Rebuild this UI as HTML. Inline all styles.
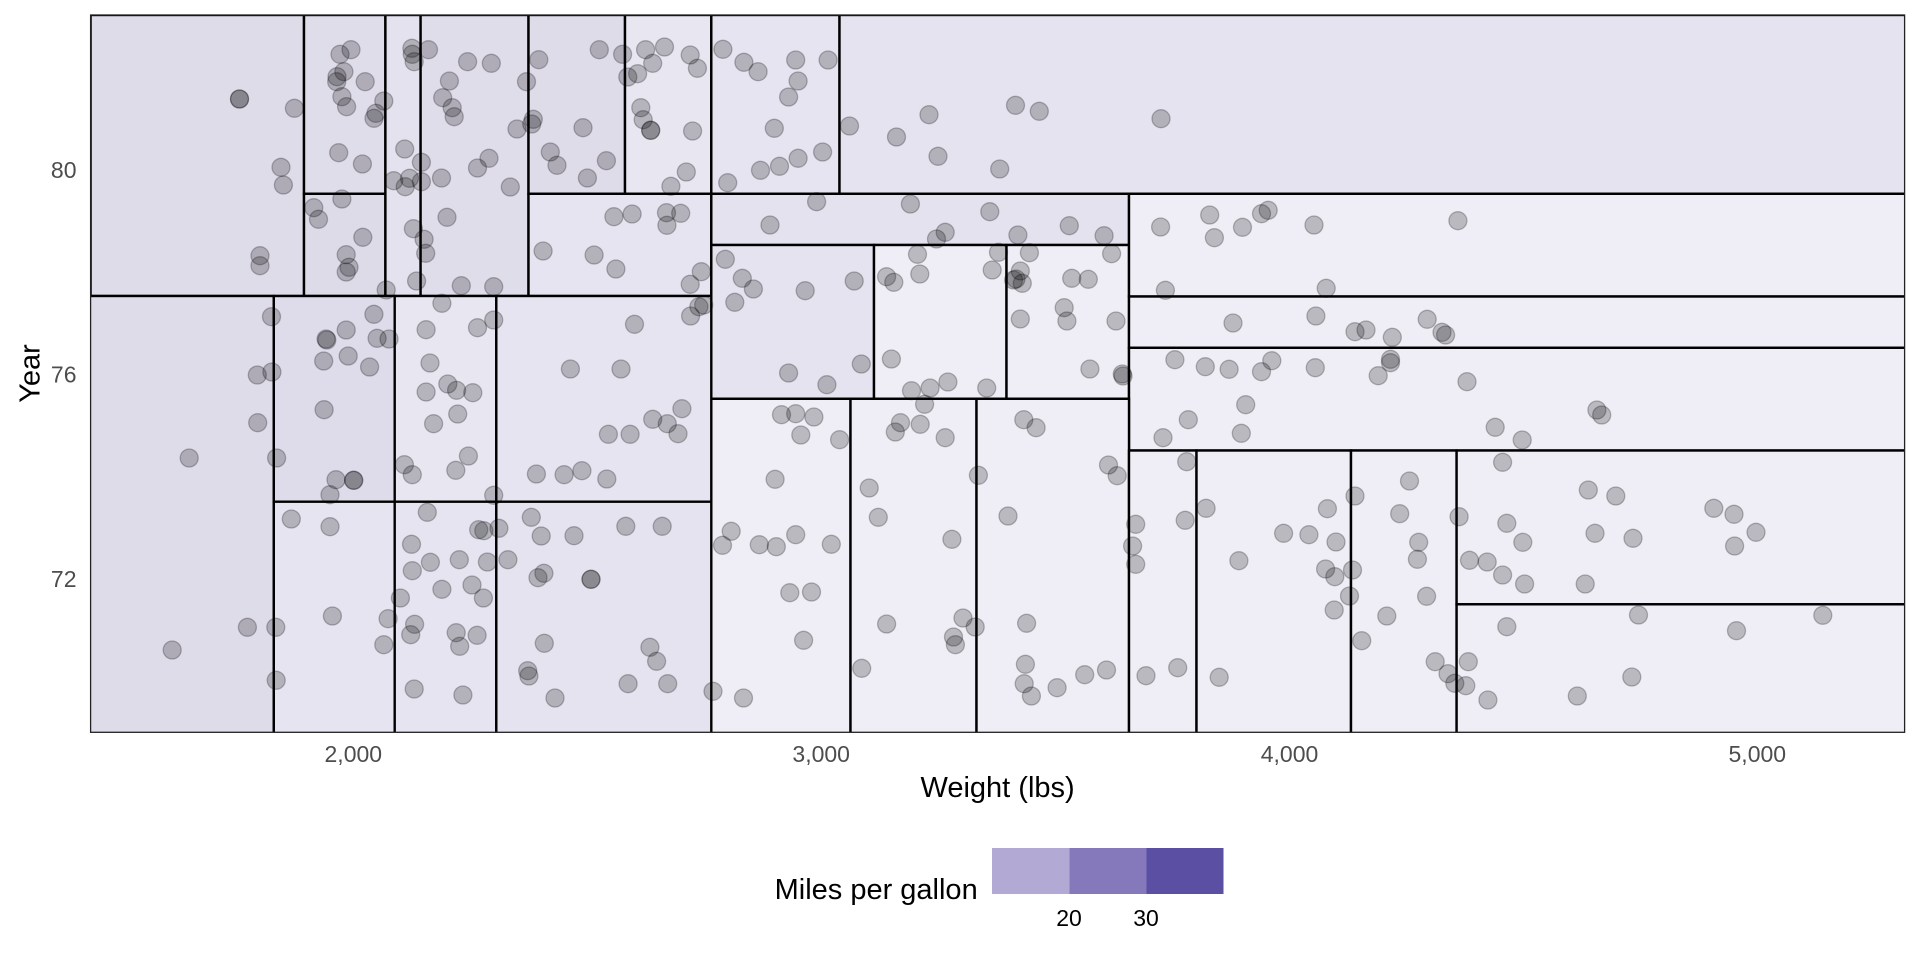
<!DOCTYPE html>
<html><head><meta charset="utf-8"><style>
html,body{margin:0;padding:0;background:#fff;}
svg{display:block;}
text{font-family:"Liberation Sans",Arial,sans-serif;}
</style></head><body>
<svg width="1920" height="960" viewBox="0 0 1920 960" xmlns="http://www.w3.org/2000/svg">
<defs><clipPath id="pc"><rect x="90.6" y="15" width="1814" height="717.3"/></clipPath></defs>
<rect x="0" y="0" width="1920" height="960" fill="#fff"/>
<g clip-path="url(#pc)" stroke="#000" stroke-width="2.4">
<rect x="90.6" y="15" width="213.4" height="281" fill="#dfdcea"/>
<rect x="304" y="15" width="81.4" height="178.8" fill="#e0ddeb"/>
<rect x="304" y="193.8" width="81.4" height="102.2" fill="#dedbe9"/>
<rect x="385.4" y="15" width="35.2" height="281" fill="#e4e2ee"/>
<rect x="420.6" y="15" width="107.9" height="281" fill="#e0ddeb"/>
<rect x="528.5" y="15" width="96.5" height="178.8" fill="#dfdcea"/>
<rect x="625" y="15" width="86.3" height="178.8" fill="#e8e6f1"/>
<rect x="528.5" y="193.8" width="182.8" height="102.2" fill="#e6e4f0"/>
<rect x="711.3" y="15" width="128.2" height="178.8" fill="#e6e4f0"/>
<rect x="839.5" y="15" width="1070" height="178.8" fill="#e5e3ef"/>
<rect x="711.3" y="193.8" width="417.7" height="51.2" fill="#e4e2ee"/>
<rect x="711.3" y="245" width="162.7" height="153.8" fill="#e5e3ef"/>
<rect x="874" y="245" width="132.5" height="153.8" fill="#efeef6"/>
<rect x="1006.5" y="245" width="122.5" height="153.8" fill="#efeef6"/>
<rect x="1129" y="193.8" width="780" height="102.7" fill="#efeef6"/>
<rect x="1129" y="296.5" width="780" height="51.3" fill="#efeef6"/>
<rect x="1129" y="347.8" width="780" height="102.7" fill="#efeef6"/>
<rect x="711.3" y="398.8" width="139.2" height="340" fill="#efeef6"/>
<rect x="850.5" y="398.8" width="126" height="340" fill="#efeef6"/>
<rect x="976.5" y="398.8" width="152.5" height="340" fill="#efeef6"/>
<rect x="1129" y="450.5" width="67.5" height="290" fill="#efeef6"/>
<rect x="1196.5" y="450.5" width="154.5" height="290" fill="#efeef6"/>
<rect x="1351" y="450.5" width="105.6" height="290" fill="#efeef6"/>
<rect x="1456.6" y="450.5" width="460" height="153.8" fill="#efeef6"/>
<rect x="1456.6" y="604.3" width="460" height="140" fill="#efeef6"/>
<rect x="85" y="296" width="188.8" height="450" fill="#dfdcea"/>
<rect x="273.8" y="296" width="120.9" height="205.7" fill="#dedbea"/>
<rect x="394.7" y="296" width="101.6" height="205.7" fill="#e8e6f1"/>
<rect x="496.3" y="296" width="215" height="205.7" fill="#e6e4f0"/>
<rect x="273.8" y="501.7" width="120.9" height="240" fill="#e6e4f0"/>
<rect x="394.7" y="501.7" width="101.6" height="240" fill="#e6e4f0"/>
<rect x="496.3" y="501.7" width="215" height="240" fill="#e5e3ef"/>
</g>
<rect x="90.6" y="15" width="1814" height="717.3" fill="none" stroke="#222" stroke-width="1.3"/>
<g clip-path="url(#pc)" fill="rgba(0,0,0,0.22)" stroke="rgba(0,0,0,0.25)" stroke-width="1.3">
<circle cx="239.5" cy="99" r="9"/><circle cx="239.5" cy="99" r="9"/><circle cx="294.4" cy="108.3" r="9"/><circle cx="281" cy="167.3" r="9"/><circle cx="283.4" cy="185" r="9"/><circle cx="260" cy="255.7" r="9"/><circle cx="260" cy="265.7" r="9"/>
<circle cx="340" cy="54.3" r="9"/><circle cx="351" cy="49.7" r="9"/><circle cx="343.9" cy="71.7" r="9"/><circle cx="337" cy="76.7" r="9"/><circle cx="336.7" cy="81.7" r="9"/><circle cx="341.9" cy="96.7" r="9"/><circle cx="346.6" cy="106.7" r="9"/><circle cx="365.2" cy="81.7" r="9"/><circle cx="383.8" cy="101" r="9"/><circle cx="375.9" cy="113.3" r="9"/><circle cx="374" cy="118.3" r="9"/><circle cx="338.7" cy="152.7" r="9"/><circle cx="362.4" cy="164" r="9"/>
<circle cx="313.8" cy="207.7" r="9"/><circle cx="318.5" cy="219.3" r="9"/><circle cx="341.9" cy="199" r="9"/><circle cx="362.8" cy="237.3" r="9"/><circle cx="346.2" cy="254.7" r="9"/><circle cx="349" cy="267.3" r="9"/><circle cx="346.2" cy="272" r="9"/><circle cx="386.2" cy="290" r="9"/>
<circle cx="411.9" cy="48.3" r="9"/><circle cx="412.3" cy="54.3" r="9"/><circle cx="414.2" cy="61.7" r="9"/><circle cx="428.5" cy="49.7" r="9"/><circle cx="404.7" cy="149" r="9"/><circle cx="421.4" cy="162.3" r="9"/><circle cx="393.7" cy="180.7" r="9"/><circle cx="409.5" cy="178.3" r="9"/><circle cx="405.2" cy="186.7" r="9"/><circle cx="421.4" cy="181.7" r="9"/><circle cx="413.4" cy="228.7" r="9"/><circle cx="424.1" cy="239.3" r="9"/><circle cx="425.7" cy="253.3" r="9"/><circle cx="416.6" cy="281" r="9"/>
<circle cx="467.6" cy="61.7" r="9"/><circle cx="491.3" cy="63.3" r="9"/><circle cx="449.4" cy="81" r="9"/><circle cx="442.7" cy="97.7" r="9"/><circle cx="452.2" cy="107.7" r="9"/><circle cx="454.2" cy="116.7" r="9"/><circle cx="526.5" cy="81.7" r="9"/><circle cx="517" cy="129" r="9"/><circle cx="533.3" cy="119.3" r="9"/><circle cx="531.7" cy="124" r="9"/><circle cx="441.5" cy="178" r="9"/><circle cx="477.5" cy="168" r="9"/><circle cx="489" cy="158.3" r="9"/><circle cx="510.3" cy="187" r="9"/><circle cx="447" cy="217.3" r="9"/><circle cx="461.3" cy="285.7" r="9"/><circle cx="493.7" cy="286.7" r="9"/>
<circle cx="538.8" cy="59.7" r="9"/><circle cx="599.3" cy="49.7" r="9"/><circle cx="622.6" cy="54.3" r="9"/><circle cx="583" cy="127.7" r="9"/><circle cx="550.3" cy="152" r="9"/><circle cx="557" cy="165.3" r="9"/><circle cx="606.4" cy="160.7" r="9"/><circle cx="587.4" cy="178" r="9"/>
<circle cx="645.6" cy="49.7" r="9"/><circle cx="664.5" cy="47" r="9"/><circle cx="690.2" cy="55" r="9"/><circle cx="697.4" cy="68.3" r="9"/><circle cx="652.7" cy="63.3" r="9"/><circle cx="637.6" cy="73.7" r="9"/><circle cx="627.8" cy="77" r="9"/><circle cx="640.8" cy="107.7" r="9"/><circle cx="643.2" cy="119.7" r="9"/><circle cx="650.7" cy="130.3" r="9"/><circle cx="650.7" cy="130.3" r="9"/><circle cx="692.6" cy="131" r="9"/><circle cx="686.3" cy="172" r="9"/><circle cx="670.9" cy="186.3" r="9"/>
<circle cx="613.9" cy="216.7" r="9"/><circle cx="632.1" cy="214" r="9"/><circle cx="666.5" cy="212.7" r="9"/><circle cx="680.7" cy="213.3" r="9"/><circle cx="666.9" cy="225.3" r="9"/><circle cx="543.1" cy="251" r="9"/><circle cx="594.1" cy="255" r="9"/><circle cx="615.9" cy="269" r="9"/><circle cx="701.3" cy="271.7" r="9"/><circle cx="690.2" cy="284.3" r="9"/>
<circle cx="271.5" cy="316.7" r="9"/><circle cx="373.9" cy="314.3" r="9"/><circle cx="346.2" cy="330" r="9"/><circle cx="326.1" cy="339" r="9"/><circle cx="326.8" cy="340" r="9"/><circle cx="377.1" cy="338.3" r="9"/><circle cx="389" cy="339" r="9"/><circle cx="348.2" cy="356" r="9"/><circle cx="323.7" cy="361" r="9"/><circle cx="369.6" cy="367" r="9"/><circle cx="441.9" cy="303.3" r="9"/><circle cx="426.1" cy="329.7" r="9"/><circle cx="477.5" cy="327.7" r="9"/><circle cx="493.7" cy="320" r="9"/><circle cx="430" cy="363" r="9"/><circle cx="634.5" cy="324.3" r="9"/><circle cx="690.6" cy="316" r="9"/><circle cx="698.9" cy="306.7" r="9"/><circle cx="703.7" cy="305" r="9"/><circle cx="570.4" cy="369" r="9"/><circle cx="621" cy="369" r="9"/><circle cx="257.3" cy="375" r="9"/><circle cx="271.9" cy="372" r="9"/>
<circle cx="324.1" cy="409.7" r="9"/><circle cx="257.7" cy="422.7" r="9"/><circle cx="189.2" cy="458" r="9"/><circle cx="276.6" cy="458" r="9"/><circle cx="336" cy="479.7" r="9"/><circle cx="353.7" cy="480.3" r="9"/><circle cx="353.7" cy="480.3" r="9"/><circle cx="330" cy="494.7" r="9"/>
<circle cx="426.1" cy="392" r="9"/><circle cx="447.8" cy="384" r="9"/><circle cx="456.6" cy="390.3" r="9"/><circle cx="472.8" cy="392.7" r="9"/><circle cx="457.7" cy="414" r="9"/><circle cx="433.6" cy="423.7" r="9"/><circle cx="404.4" cy="464.7" r="9"/><circle cx="412.3" cy="474.7" r="9"/><circle cx="468.4" cy="456" r="9"/><circle cx="455.8" cy="470.3" r="9"/><circle cx="493.7" cy="495.3" r="9"/>
<circle cx="681.9" cy="408.7" r="9"/><circle cx="652.7" cy="419.3" r="9"/><circle cx="667.3" cy="423.7" r="9"/><circle cx="678" cy="433.7" r="9"/><circle cx="608.4" cy="434.3" r="9"/><circle cx="630.1" cy="434.3" r="9"/><circle cx="536.4" cy="474" r="9"/><circle cx="564.1" cy="474.7" r="9"/><circle cx="581.9" cy="470.7" r="9"/><circle cx="606.8" cy="479" r="9"/>
<circle cx="291.3" cy="519" r="9"/><circle cx="330" cy="526.7" r="9"/><circle cx="427.3" cy="512.3" r="9"/><circle cx="478.7" cy="529.7" r="9"/><circle cx="483.8" cy="530.7" r="9"/><circle cx="498.9" cy="528.3" r="9"/><circle cx="411.5" cy="544.3" r="9"/><circle cx="430.4" cy="562.3" r="9"/><circle cx="459.3" cy="559.7" r="9"/><circle cx="487.4" cy="562" r="9"/><circle cx="412.3" cy="570.7" r="9"/><circle cx="507.9" cy="559.7" r="9"/><circle cx="531.3" cy="517.3" r="9"/><circle cx="541.2" cy="536" r="9"/><circle cx="574" cy="535.7" r="9"/><circle cx="625.8" cy="526.3" r="9"/><circle cx="662.2" cy="526.3" r="9"/><circle cx="543.9" cy="573.3" r="9"/><circle cx="538" cy="577.7" r="9"/><circle cx="591" cy="579.3" r="9"/><circle cx="591" cy="579.3" r="9"/><circle cx="441.9" cy="589.3" r="9"/><circle cx="472" cy="585" r="9"/><circle cx="483.4" cy="598" r="9"/><circle cx="400.4" cy="598" r="9"/><circle cx="332.4" cy="616" r="9"/><circle cx="388.1" cy="618.7" r="9"/><circle cx="383.8" cy="644.7" r="9"/><circle cx="247.4" cy="627.3" r="9"/><circle cx="275.8" cy="627.3" r="9"/><circle cx="172.2" cy="650" r="9"/><circle cx="276.2" cy="680.3" r="9"/><circle cx="414.6" cy="624.3" r="9"/><circle cx="410.7" cy="634.7" r="9"/><circle cx="456.2" cy="632.7" r="9"/><circle cx="477.1" cy="635.3" r="9"/><circle cx="459.7" cy="646.3" r="9"/><circle cx="414.2" cy="689" r="9"/><circle cx="462.9" cy="695" r="9"/><circle cx="544.3" cy="643.3" r="9"/><circle cx="527.7" cy="670.7" r="9"/><circle cx="528.9" cy="676" r="9"/><circle cx="555" cy="698" r="9"/><circle cx="649.9" cy="647.3" r="9"/><circle cx="656.6" cy="661.3" r="9"/><circle cx="628.1" cy="683.7" r="9"/><circle cx="667.7" cy="683.7" r="9"/><circle cx="713" cy="691.3" r="9"/>
<circle cx="722.9" cy="49.3" r="9"/><circle cx="743.9" cy="62.3" r="9"/><circle cx="758.1" cy="71.7" r="9"/><circle cx="795.7" cy="60" r="9"/><circle cx="828.1" cy="60" r="9"/><circle cx="798.1" cy="81" r="9"/><circle cx="788.6" cy="97" r="9"/><circle cx="774.3" cy="128.3" r="9"/><circle cx="822.6" cy="152" r="9"/><circle cx="798.1" cy="158.3" r="9"/><circle cx="779.5" cy="166.3" r="9"/><circle cx="760.5" cy="170.3" r="9"/><circle cx="727.7" cy="182.7" r="9"/>
<circle cx="849.5" cy="126" r="9"/><circle cx="896.5" cy="137" r="9"/><circle cx="929" cy="114.7" r="9"/><circle cx="938" cy="156.3" r="9"/><circle cx="999.7" cy="169" r="9"/><circle cx="1015.5" cy="105.3" r="9"/><circle cx="1039.3" cy="111.3" r="9"/><circle cx="1161" cy="118.7" r="9"/>
<circle cx="816.6" cy="201.7" r="9"/><circle cx="770" cy="225" r="9"/><circle cx="910.4" cy="204" r="9"/><circle cx="989.8" cy="211.7" r="9"/><circle cx="945.2" cy="232.3" r="9"/><circle cx="936.5" cy="239" r="9"/><circle cx="1017.9" cy="235" r="9"/><circle cx="1069.3" cy="225.7" r="9"/><circle cx="1104.1" cy="235.7" r="9"/>
<circle cx="725.3" cy="259.3" r="9"/><circle cx="742.3" cy="278.3" r="9"/><circle cx="753.4" cy="289" r="9"/><circle cx="734.8" cy="302.3" r="9"/><circle cx="805.2" cy="290.7" r="9"/><circle cx="854.2" cy="281" r="9"/><circle cx="788.6" cy="373" r="9"/><circle cx="861.3" cy="364" r="9"/><circle cx="826.9" cy="384.7" r="9"/>
<circle cx="917.5" cy="254.3" r="9"/><circle cx="886.6" cy="276.7" r="9"/><circle cx="893.8" cy="282.3" r="9"/><circle cx="919.8" cy="274" r="9"/><circle cx="998.5" cy="252.3" r="9"/><circle cx="992.2" cy="270" r="9"/><circle cx="891.4" cy="359" r="9"/>
<circle cx="1029.4" cy="252.7" r="9"/><circle cx="1020.3" cy="271" r="9"/><circle cx="1013.6" cy="280" r="9"/><circle cx="1016" cy="279" r="9"/><circle cx="1022.3" cy="283.3" r="9"/><circle cx="1071.7" cy="278.3" r="9"/><circle cx="1088.3" cy="279.3" r="9"/><circle cx="1111.6" cy="253.7" r="9"/><circle cx="1064.2" cy="307.7" r="9"/><circle cx="1066.9" cy="321" r="9"/><circle cx="1020.3" cy="319" r="9"/><circle cx="1116" cy="321" r="9"/><circle cx="1089.9" cy="369" r="9"/><circle cx="1122.3" cy="374" r="9"/><circle cx="1123" cy="376" r="9"/>
<circle cx="1160.6" cy="227" r="9"/><circle cx="1209.7" cy="215" r="9"/><circle cx="1214.4" cy="237.7" r="9"/><circle cx="1242.5" cy="227.3" r="9"/><circle cx="1261.5" cy="213.7" r="9"/><circle cx="1268.2" cy="210.3" r="9"/><circle cx="1314" cy="225" r="9"/><circle cx="1165.4" cy="290.3" r="9"/><circle cx="1233" cy="323" r="9"/><circle cx="1315.9" cy="316" r="9"/><circle cx="1174.9" cy="359.7" r="9"/><circle cx="1205.3" cy="366.7" r="9"/><circle cx="1229.1" cy="369.3" r="9"/><circle cx="1271.8" cy="360.7" r="9"/><circle cx="1261.5" cy="371.7" r="9"/><circle cx="1315.3" cy="367.7" r="9"/><circle cx="1326.2" cy="288.3" r="9"/>
<circle cx="911.5" cy="390.7" r="9"/><circle cx="930.1" cy="388" r="9"/><circle cx="947.9" cy="382" r="9"/><circle cx="986.7" cy="388" r="9"/>
<circle cx="1245.7" cy="404.7" r="9"/><circle cx="1188.3" cy="419.7" r="9"/><circle cx="1163" cy="437.7" r="9"/><circle cx="1241.3" cy="433.3" r="9"/>
<circle cx="781.5" cy="414.7" r="9"/><circle cx="795.7" cy="413.7" r="9"/><circle cx="813.9" cy="417" r="9"/><circle cx="800.8" cy="435" r="9"/><circle cx="839.6" cy="439.7" r="9"/><circle cx="775.1" cy="479.3" r="9"/><circle cx="731.2" cy="531.3" r="9"/><circle cx="722.5" cy="545.3" r="9"/><circle cx="759.3" cy="544.7" r="9"/><circle cx="776.3" cy="546.7" r="9"/><circle cx="795.7" cy="534.7" r="9"/><circle cx="831.3" cy="544.3" r="9"/><circle cx="789.8" cy="592.7" r="9"/><circle cx="811.5" cy="592" r="9"/><circle cx="803.6" cy="640.3" r="9"/><circle cx="743.5" cy="698" r="9"/>
<circle cx="924.6" cy="404.3" r="9"/><circle cx="900.5" cy="422.7" r="9"/><circle cx="895.3" cy="432" r="9"/><circle cx="920.2" cy="424.3" r="9"/><circle cx="945.2" cy="437.7" r="9"/><circle cx="869.2" cy="488" r="9"/><circle cx="878.3" cy="517.3" r="9"/><circle cx="951.9" cy="539.3" r="9"/><circle cx="978.4" cy="475.3" r="9"/><circle cx="886.6" cy="624" r="9"/><circle cx="963" cy="618" r="9"/><circle cx="975.2" cy="627" r="9"/><circle cx="953.5" cy="637" r="9"/><circle cx="955.4" cy="644.7" r="9"/><circle cx="861.7" cy="668.3" r="9"/>
<circle cx="1023.8" cy="419.7" r="9"/><circle cx="1036.1" cy="427.7" r="9"/><circle cx="1108.5" cy="465" r="9"/><circle cx="1117.2" cy="475.7" r="9"/><circle cx="1008" cy="516" r="9"/><circle cx="1026.6" cy="623.3" r="9"/><circle cx="1025.4" cy="664.3" r="9"/><circle cx="1024.2" cy="683.7" r="9"/><circle cx="1031.4" cy="696" r="9"/><circle cx="1057.1" cy="687.7" r="9"/><circle cx="1084.7" cy="674.7" r="9"/><circle cx="1106.5" cy="670" r="9"/>
<circle cx="1135.7" cy="524.3" r="9"/><circle cx="1132.6" cy="546" r="9"/><circle cx="1135.7" cy="564.3" r="9"/><circle cx="1186.7" cy="461.7" r="9"/><circle cx="1185.2" cy="520.3" r="9"/><circle cx="1146" cy="675.7" r="9"/><circle cx="1177.7" cy="667.7" r="9"/>
<circle cx="1206.1" cy="508.3" r="9"/><circle cx="1283.6" cy="533.3" r="9"/><circle cx="1308.9" cy="534.7" r="9"/><circle cx="1238.9" cy="560.7" r="9"/><circle cx="1219.2" cy="677.3" r="9"/>
<circle cx="1327.4" cy="508.7" r="9"/><circle cx="1336" cy="542" r="9"/><circle cx="1325.6" cy="569" r="9"/><circle cx="1334.8" cy="576.7" r="9"/><circle cx="1352.5" cy="570" r="9"/><circle cx="1355" cy="496" r="9"/><circle cx="1349.5" cy="596" r="9"/><circle cx="1334.2" cy="610" r="9"/><circle cx="1361.7" cy="640.7" r="9"/><circle cx="1386.8" cy="616" r="9"/><circle cx="1399.7" cy="513.7" r="9"/><circle cx="1409.5" cy="481" r="9"/><circle cx="1418.7" cy="542.3" r="9"/><circle cx="1417.4" cy="559.3" r="9"/><circle cx="1426.6" cy="596.3" r="9"/><circle cx="1435.2" cy="661.7" r="9"/><circle cx="1448" cy="673.7" r="9"/><circle cx="1454.8" cy="683.3" r="9"/><circle cx="1459.1" cy="516.7" r="9"/><circle cx="1468.3" cy="661.7" r="9"/><circle cx="1465.8" cy="685.7" r="9"/><circle cx="1487.9" cy="700" r="9"/><circle cx="1469.5" cy="560.3" r="9"/><circle cx="1487.2" cy="562" r="9"/><circle cx="1502.6" cy="575" r="9"/><circle cx="1524.6" cy="584" r="9"/><circle cx="1506.8" cy="523.3" r="9"/><circle cx="1522.8" cy="542.3" r="9"/>
<circle cx="1588.3" cy="490" r="9"/><circle cx="1615.8" cy="496" r="9"/><circle cx="1595" cy="533.3" r="9"/><circle cx="1633" cy="538.3" r="9"/><circle cx="1585.2" cy="584" r="9"/><circle cx="1713.8" cy="508.3" r="9"/><circle cx="1734" cy="514.3" r="9"/><circle cx="1756" cy="532.3" r="9"/><circle cx="1734.6" cy="546" r="9"/><circle cx="1506.8" cy="626.7" r="9"/><circle cx="1638.5" cy="615" r="9"/><circle cx="1736.5" cy="630.7" r="9"/><circle cx="1822.8" cy="615.3" r="9"/><circle cx="1631.8" cy="677" r="9"/><circle cx="1577.3" cy="696" r="9"/>
<circle cx="1457.9" cy="220.7" r="9"/><circle cx="1355" cy="331.7" r="9"/><circle cx="1366" cy="330" r="9"/><circle cx="1392.3" cy="337.3" r="9"/><circle cx="1427.2" cy="319.3" r="9"/><circle cx="1442" cy="332.3" r="9"/><circle cx="1445.6" cy="335" r="9"/><circle cx="1390.5" cy="359.3" r="9"/><circle cx="1390.5" cy="362.7" r="9"/><circle cx="1378.2" cy="375.7" r="9"/><circle cx="1467" cy="381.7" r="9"/><circle cx="1596.9" cy="410" r="9"/><circle cx="1601.7" cy="415" r="9"/><circle cx="1495.2" cy="427.3" r="9"/><circle cx="1522.2" cy="440" r="9"/><circle cx="1502.6" cy="462.3" r="9"/>
</g>
<g font-size="23" fill="#4d4d4d" text-anchor="end">
<text x="76.5" y="178">80</text>
<text x="76.5" y="382.5">76</text>
<text x="76.5" y="587">72</text>
</g>
<g font-size="23" fill="#4d4d4d" text-anchor="middle">
<text x="353.3" y="762">2,000</text>
<text x="821.2" y="762">3,000</text>
<text x="1289.5" y="762">4,000</text>
<text x="1757.3" y="762">5,000</text>
</g>
<text x="997.6" y="797" font-size="29" fill="#000" text-anchor="middle">Weight (lbs)</text>
<text transform="translate(39.5,373.5) rotate(-90)" font-size="29" fill="#000" text-anchor="middle">Year</text>
<text x="774.6" y="899" font-size="29" fill="#000">Miles per gallon</text>
<rect x="992" y="848" width="77.5" height="46" fill="#b2a9d4"/>
<rect x="1069.5" y="848" width="77" height="46" fill="#8579bb"/>
<rect x="1146.5" y="848" width="77" height="46" fill="#5a4fa3"/>
<g font-size="23" fill="#000" text-anchor="middle">
<text x="1069" y="926">20</text>
<text x="1146" y="926">30</text>
</g>
</svg>
</body></html>
